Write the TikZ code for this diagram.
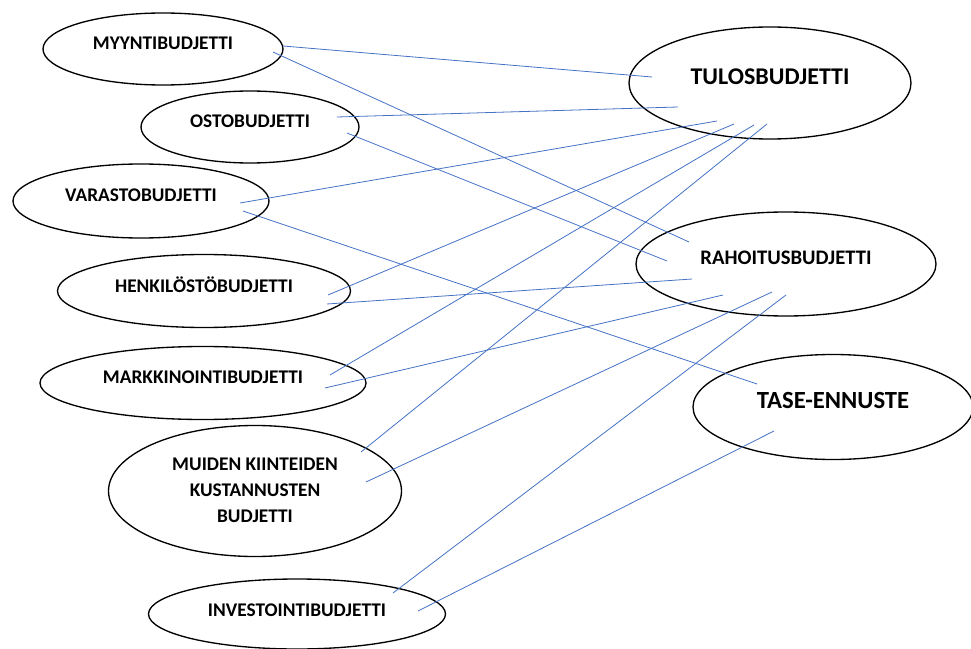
\documentclass[tikz,border=0pt]{standalone}
\usepackage{fontspec}
\setmainfont{Carlito}
\usetikzlibrary{shapes.geometric}
\definecolor{linkblue}{RGB}{68,114,196}
\tikzset{
  budjetti/.style={draw, ellipse, line width=1pt, inner sep=0pt},
  nimi/.style={font=\bfseries\fontsize{14.5}{19.5}\selectfont, align=center, yshift=4.5pt},
  isonimi/.style={font=\bfseries\fontsize{18}{22}\selectfont, yshift=5pt},
  yhteys/.style={draw=linkblue, line width=0.6pt},
}
\begin{document}
\begin{tikzpicture}[x=0.75pt,y=0.75pt,yscale=-1,xscale=1]
\useasboundingbox (0,0) rectangle (971,649);

%Shape: Ellipse
\node [budjetti, minimum width=180pt, minimum height=54pt, label={[nimi]center:MYYNTIBUDJETTI}] (myynti) at (163,49) {};
%Shape: Ellipse
\node [budjetti, minimum width=163.5pt, minimum height=54pt, label={[nimi]center:OSTOBUDJETTI}] (osto) at (250,127) {};
%Shape: Ellipse
\node [budjetti, minimum width=192pt, minimum height=55.5pt, label={[nimi]center:VARASTOBUDJETTI}] (varasto) at (141,201) {};
%Shape: Ellipse
\node [budjetti, minimum width=219.75pt, minimum height=54.75pt, label={[nimi]center:HENKILÖSTÖBUDJETTI}] (henkilosto) at (204,291) {};
%Shape: Ellipse
\node [budjetti, minimum width=244.5pt, minimum height=54.75pt, label={[nimi]center:MARKKINOINTIBUDJETTI}] (markkinointi) at (203,383) {};
%Shape: Ellipse
\node [budjetti, minimum width=219.75pt, minimum height=98.25pt, label={[nimi, yshift=-3.75pt]center:MUIDEN KIINTEIDEN\\KUSTANNUSTEN\\BUDJETTI}] (muiden) at (255,491) {};
%Shape: Ellipse
\node [budjetti, minimum width=222.75pt, minimum height=52.5pt, label={[nimi, yshift=-2pt]center:INVESTOINTIBUDJETTI}] (investointi) at (297,614) {};

%Shape: Ellipse
\node [budjetti, minimum width=211.5pt, minimum height=84pt, label={[isonimi]center:TULOSBUDJETTI}] (tulos) at (770,83) {};
%Shape: Ellipse
\node [budjetti, minimum width=225pt, minimum height=78pt, label={[isonimi, font=\bfseries\fontsize{15.5}{19}\selectfont]center:RAHOITUSBUDJETTI}] (rahoitus) at (786,264) {};
%Shape: Ellipse
\node [budjetti, minimum width=210pt, minimum height=78.75pt, label={[isonimi, font=\bfseries\fontsize{18.5}{22}\selectfont]center:TASE-ENNUSTE}] (tase) at (833,407) {};

%Straight Lines
\draw [yhteys] ([shift={(120,-3)}]myynti.center) -- ([shift={(-118,-6)}]tulos.center) ;
\draw [yhteys] ([shift={(110,3)}]myynti.center) -- ([shift={(-97,-22)}]rahoitus.center) ;
%Straight Lines
\draw [yhteys] ([shift={(87,-10)}]osto.center) -- ([shift={(-92,24)}]tulos.center) ;
\draw [yhteys] ([shift={(97,6)}]osto.center) -- ([shift={(-119,-3)}]rahoitus.center) ;
%Straight Lines
\draw [yhteys] ([shift={(99,2)}]varasto.center) -- ([shift={(-53,38)}]tulos.center) ;
\draw [yhteys] ([shift={(102,10)}]varasto.center) -- ([shift={(-76,-23)}]tase.center) ;
%Straight Lines
\draw [yhteys] ([shift={(124,4)}]henkilosto.center) -- ([shift={(-36,41)}]tulos.center) ;
\draw [yhteys] ([shift={(123,13)}]henkilosto.center) -- ([shift={(-94,15)}]rahoitus.center) ;
%Straight Lines
\draw [yhteys] ([shift={(127,-8)}]markkinointi.center) -- ([shift={(-16,42)}]tulos.center) ;
\draw [yhteys] ([shift={(122,5)}]markkinointi.center) -- ([shift={(-63,31)}]rahoitus.center) ;
%Straight Lines
\draw [yhteys] ([shift={(106,-39)}]muiden.center) -- ([shift={(-3,41)}]tulos.center) ;
\draw [yhteys] ([shift={(111,-9)}]muiden.center) -- ([shift={(-14,28)}]rahoitus.center) ;
%Straight Lines
\draw [yhteys] ([shift={(96,-21)}]investointi.center) -- ([shift={(0,31)}]rahoitus.center) ;
\draw [yhteys] ([shift={(121,-3)}]investointi.center) -- ([shift={(-59,24)}]tase.center) ;

\end{tikzpicture}
\end{document}
